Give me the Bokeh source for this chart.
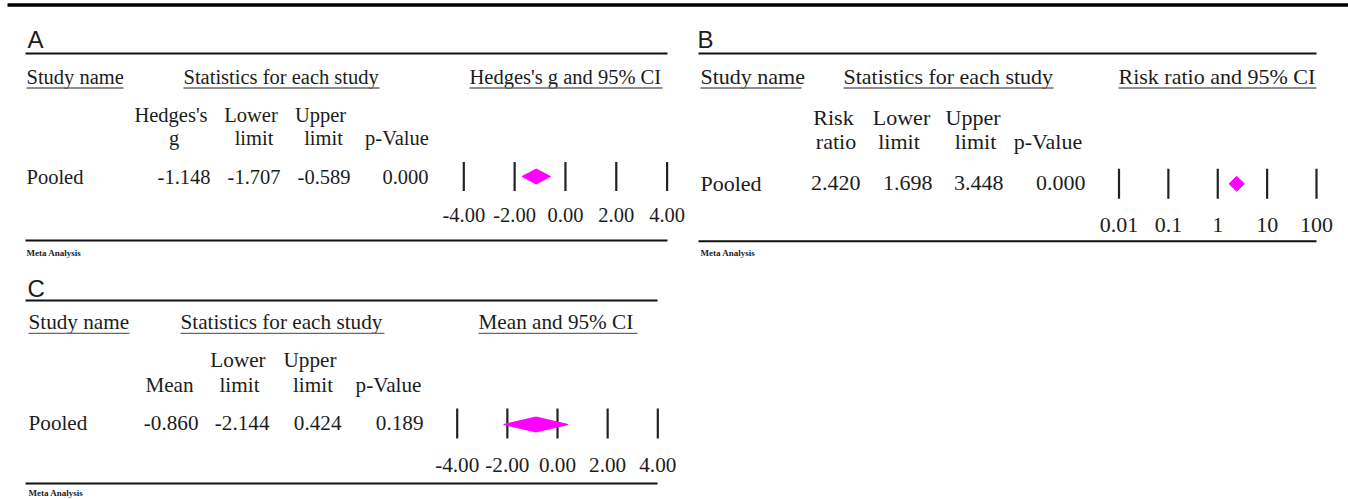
import math
from bokeh.plotting import figure
from bokeh.models import Range1d, LogScale, LinearScale, ColumnDataSource
from bokeh.core.properties import value
from bokeh.embed import file_html
from bokeh.resources import INLINE

# ---------------- data ----------------
panel_letters = ["A", "B", "C"]
study_names = ["Pooled", "Pooled", "Pooled"]
plot_titles = ["Hedges's g and 95% CI", "Risk ratio and 95% CI", "Mean and 95% CI"]
effect_names = [["Hedges's", "g"], ["Risk", "ratio"], ["", "Mean"]]
effects = [-1.148, 2.420, -0.860]
lower_limits = [-1.707, 1.698, -2.144]
upper_limits = [-0.589, 3.448, 0.424]
p_values = [0.000, 0.000, 0.189]
ticks_A = [-4, -2, 0, 2, 4]
tick_labels_A = ["-4.00", "-2.00", "0.00", "2.00", "4.00"]
ticks_B = [0.01, 0.1, 1, 10, 100]
tick_labels_B = ["0.01", "0.1", "1", "10", "100"]
ticks_C = [-4, -2, 0, 2, 4]
tick_labels_C = ["-4.00", "-2.00", "0.00", "2.00", "4.00"]

# ---------------- figure ----------------
W, H = 1348, 499
SERIF = "Liberation Serif"
SANS = "Liberation Sans"
INK = "#1c1c1c"
MID = {SERIF: 0.3375, SANS: 0.3465}   # em-box middle above the baseline

p = figure(width=W, height=H, x_range=Range1d(0, W), y_range=Range1d(H, 0),
           toolbar_location=None, output_backend="svg", min_border=0,
           x_axis_location=None, y_axis_location=None)
p.grid.visible = False
p.outline_line_color = None
p.background_fill_color = "white"
p.border_fill_color = "white"


def span_range(v0, px0, v1, px1, log=False):
    a0, a1 = (math.log10(v0), math.log10(v1)) if log else (v0, v1)
    k = (px1 - px0) / (a1 - a0)
    start = a0 - px0 / k
    end = start + W / k
    if log:
        return Range1d(10 ** start, 10 ** end)
    return Range1d(start, end)


p.extra_x_ranges = {
    "A": span_range(-4, 463.3, 4, 666.6),
    "B": span_range(0.01, 1118.5, 100, 1316.0, log=True),
    "C": span_range(-4, 456.7, 4, 657.3),
}
p.extra_x_scales = {"A": LinearScale(), "B": LogScale(), "C": LinearScale()}


def txt(x, y, s, size, align="left", font=SERIF, style="normal", color=INK, rng="default"):
    """y is the text baseline (pixels from top)."""
    p.text(x=[x], y=[y - MID[font] * size], text=[s], text_font=value(font),
           text_font_size=value(f"{size}px"), text_align=align, text_baseline="middle",
           text_font_style=style, text_color=color, x_range_name=rng)


def hline(x0, x1, y, w=2.0, color="#111111"):
    p.segment(x0=[x0], y0=[y], x1=[x1], y1=[y], line_width=w, line_color=color)


# top rule
hline(7, W, 4.5, w=3.5, color="#000000")

# layout per panel (pixel positions only)
layouts = [
    dict(left=26, right=667, letter_x=27, letter_y=47, rule_top=53, head_y=83, fs=20.5,
         study_x=(26, 123), stats_x=(183, 379), title_x=(469, 662),
         row1_y=121.7, row2_y=144.5, row1_c=[170.5, 250.5, 320.0],
         row2_c=[173.5, 253.5, 323.0, 396.5], val_y=183.3, val_r=[210, 280, 350, 428],
         bar_y=(161.5, 190.5), dia_y=176.0, dia_h=7.5, tick_y=221.5,
         rule_bot=240.0, meta_y=255.5, rng="A", ticks=ticks_A, labels=tick_labels_A),
    dict(left=700, right=1316, letter_x=697, letter_y=47, rule_top=53, head_y=83, fs=22.0,
         study_x=(700, 801), stats_x=(843, 1053), title_x=(1118, 1316),
         row1_y=124.5, row2_y=148.5, row1_c=[833.0, 901.0, 972.5],
         row2_c=[835.5, 898.5, 975.0, 1047.5], val_y=190.0, val_r=[860, 932, 1003, 1085],
         bar_y=(168.3, 198.3), dia_y=183.3, dia_h=7.5, tick_y=231.5,
         rule_bot=240.7, meta_y=255.7, rng="B", ticks=ticks_B, labels=tick_labels_B),
    dict(left=26, right=657, letter_x=27, letter_y=296.5, rule_top=300, head_y=328.3, fs=21.2,
         study_x=(28, 129), stats_x=(180, 384), title_x=(478, 637),
         row1_y=367.0, row2_y=392.0, row1_c=[169.0, 237.5, 309.5],
         row2_c=[169.0, 239.0, 312.5, 388.0], val_y=430.0, val_r=[198, 269, 341, 423],
         bar_y=(408.0, 438.0), dia_y=424.0, dia_h=7.5, tick_y=471.7,
         rule_bot=483.0, meta_y=496.0, rng="C", ticks=ticks_C, labels=tick_labels_C),
]

for i, L in enumerate(layouts):
    fs = L["fs"]
    rule_l = L["left"] - 1 if i != 1 else 698
    rng = L["rng"]
    # panel letter
    txt(L["letter_x"], L["letter_y"], panel_letters[i], 24, font=SANS)
    hline(rule_l, L["right"], L["rule_top"])
    # column group headers with underlines
    txt(L["study_x"][0], L["head_y"], "Study name", fs)
    txt(L["stats_x"][0], L["head_y"], "Statistics for each study", fs)
    txt(L["title_x"][0], L["head_y"], plot_titles[i], fs)
    for (a, b) in (L["study_x"], L["stats_x"], L["title_x"]):
        hline(a, b, L["head_y"] + 4.5, w=1.3, color="#6a6a6a")
    # column headers
    first = [effect_names[i][0], "Lower", "Upper"]
    second = [effect_names[i][1], "limit", "limit", "p-Value"]
    for c, s in zip(L["row1_c"], first):
        if s:
            txt(c, L["row1_y"], s, fs, align="center")
    for c, s in zip(L["row2_c"], second):
        txt(c, L["row2_y"], s, fs, align="center")
    # values row
    txt(L["study_x"][0], L["val_y"], study_names[i], fs)
    vals = [effects[i], lower_limits[i], upper_limits[i], p_values[i]]
    for r, v in zip(L["val_r"], vals):
        txt(r, L["val_y"], f"{v:.3f}", fs, align="right")
    # forest plot: tick bars and labels through the panel scale
    y0, y1 = L["bar_y"]
    n = len(L["ticks"])
    src = ColumnDataSource(dict(x=L["ticks"], y0=[y0] * n, y1=[y1] * n, lab=L["labels"],
                                ty=[L["tick_y"] - MID[SERIF] * fs] * n))
    p.segment(x0="x", y0="y0", x1="x", y1="y1", source=src, line_width=2.2,
              line_color="#222222", x_range_name=rng)
    p.text(x="x", y="ty", text="lab", source=src, text_font=value(SERIF),
           text_font_size=value(f"{fs}px"), text_align="center",
           text_baseline="middle", text_color=INK, x_range_name=rng)
    # pooled diamond
    dy, dh = L["dia_y"], L["dia_h"]
    p.patch(x=[lower_limits[i], effects[i], upper_limits[i], effects[i]],
            y=[dy, dy - dh, dy, dy + dh], fill_color="#ff00ff", line_color="#ff00ff",
            line_width=1, x_range_name=rng)
    # bottom rule and footer
    hline(rule_l, L["right"], L["rule_bot"])
    txt(L["study_x"][0], L["meta_y"], "Meta Analysis", 9, style="bold")

open("out.html", "w").write(file_html(p, INLINE))
